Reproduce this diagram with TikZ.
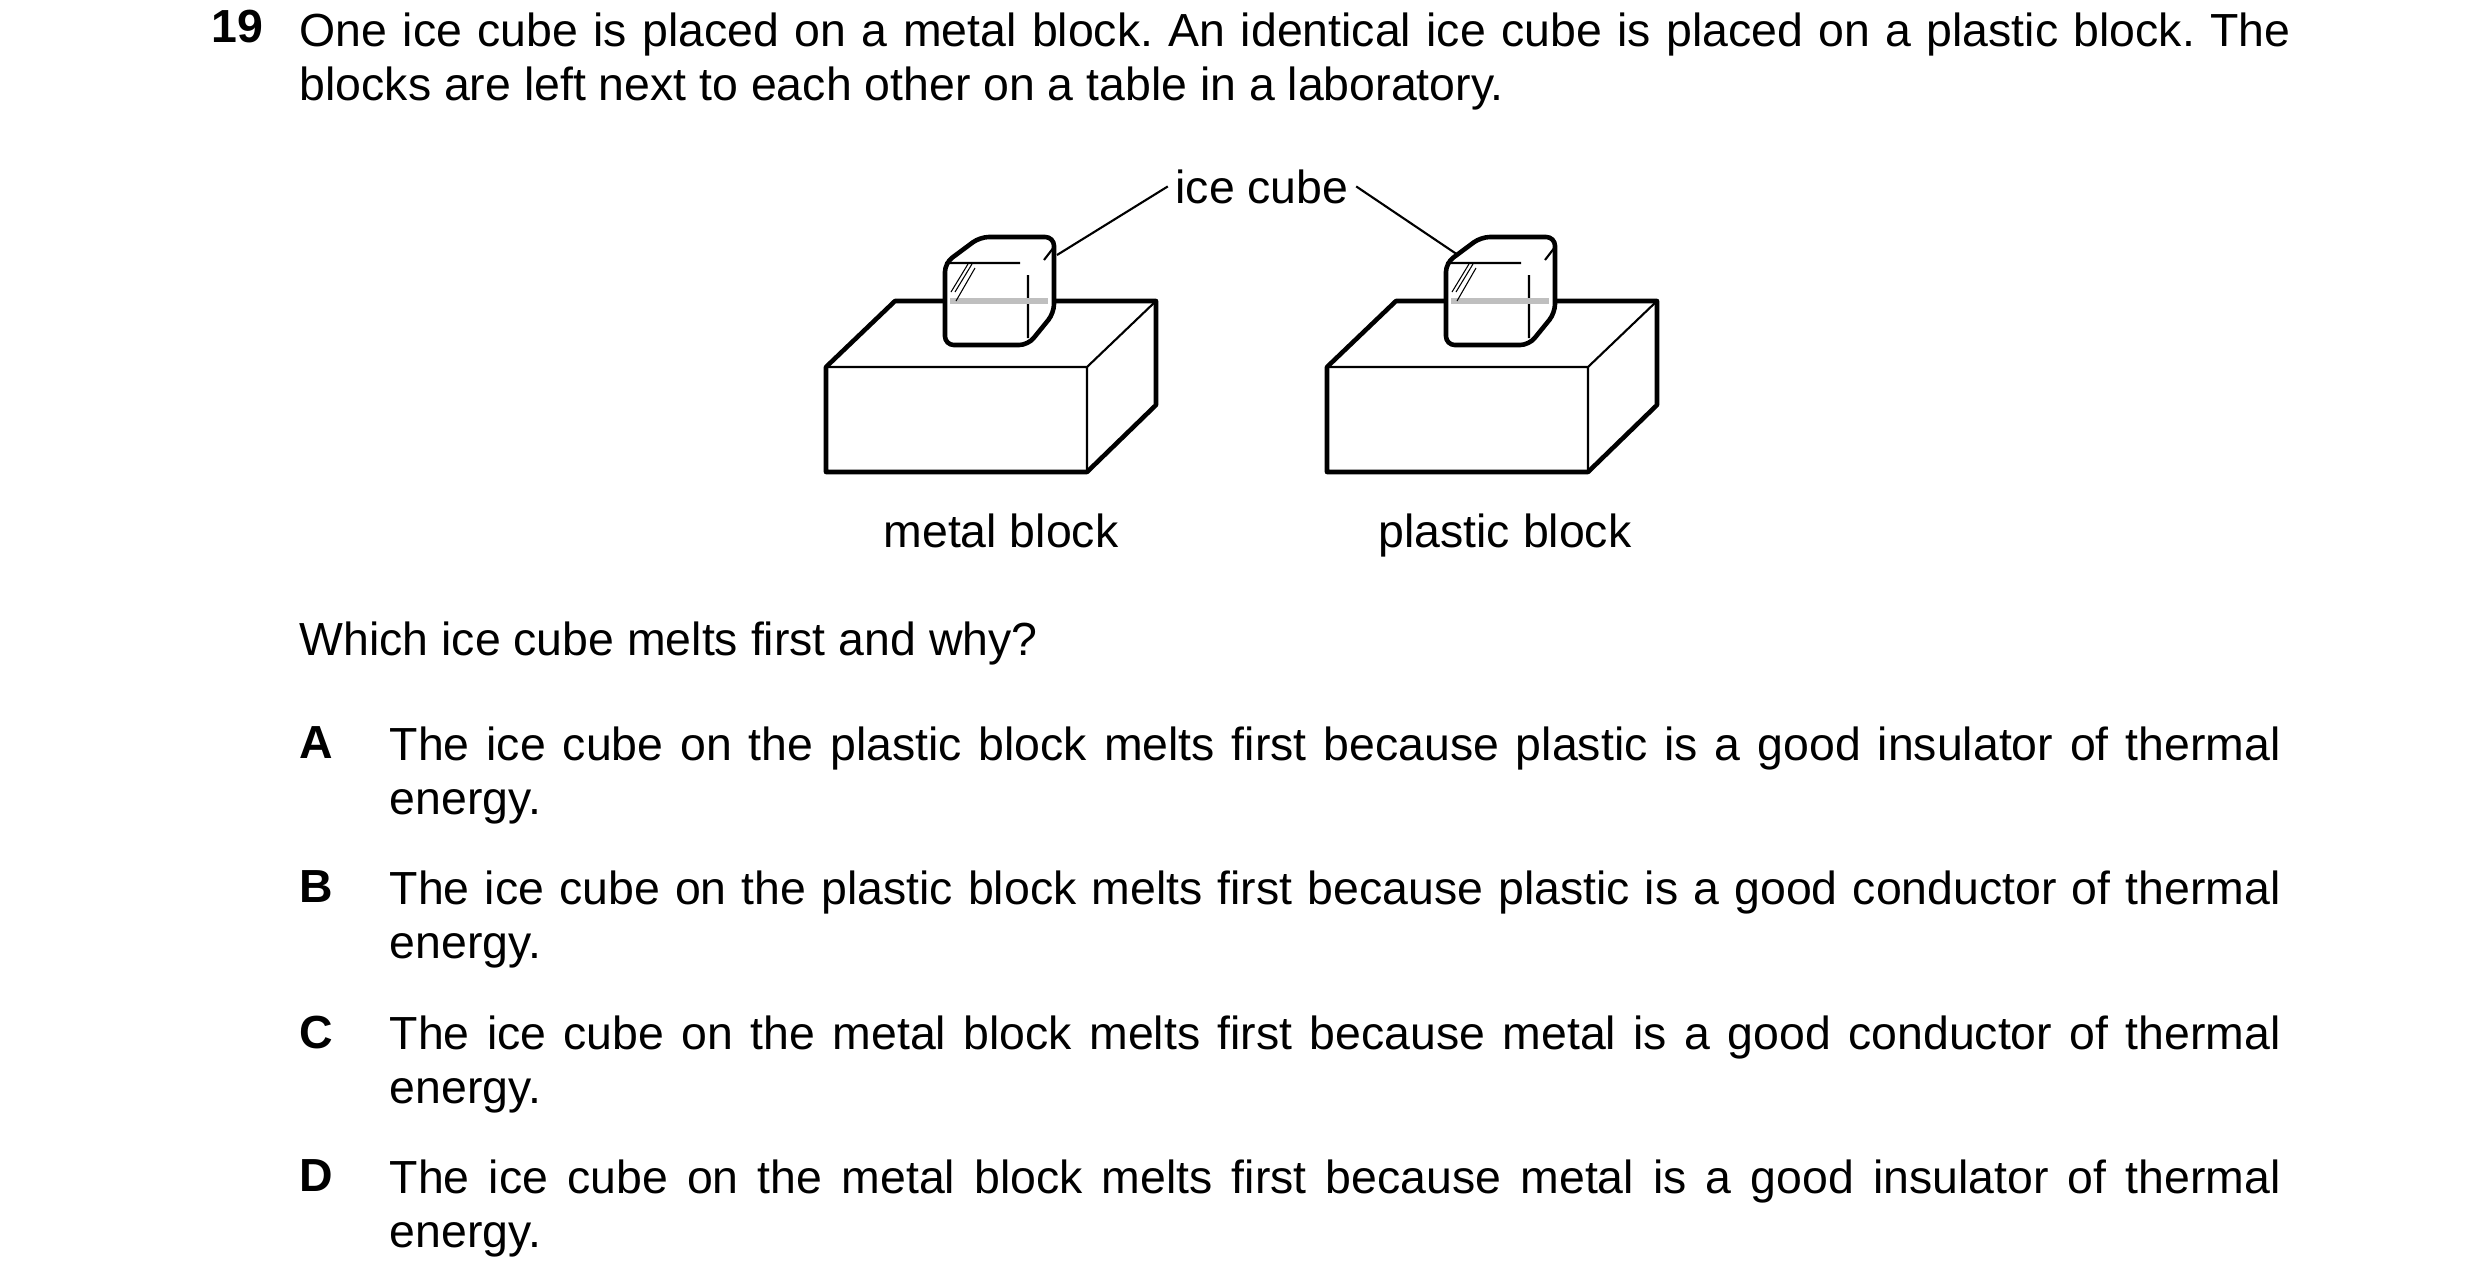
\documentclass[tikz,border=0pt]{standalone}
\usepackage{fontspec}
\setmainfont{Liberation Sans}
\usetikzlibrary{positioning}
\tikzset{
  outline/.style={line width=1.3pt,line join=round},
  edge/.style={line width=0.6pt},
  txt/.style={inner sep=0pt,anchor=base west,font=\fontsize{13.2}{15.5}\selectfont},
  para/.style={txt,anchor=north west,text width=18.9cm,align=justify},
  lab/.style={inner sep=0pt,anchor=base,font=\fontsize{13.2}{15}\selectfont}
}
% block with an ice cube on it, shifted by #1 pixels
\newcommand\blockcube[1]{%
  \begin{scope}[shift={(#1,0)}]
    \draw[outline,fill=white](826,367)--(895,301)--(1156,301)--(1156,405)--(1087,472)--(826,472)--cycle;
    \draw[edge](826,367)--(1087,367)--(1156,301)(1087,367)--(1087,472);
    \draw[outline,fill=white,rounded corners=2.5pt](945,300)--(945,263)--(980,237)--(1054,237)--(1054,313)--(1028,345)--(945,345)--cycle;
    \draw[edge](945,263)--(1020,263)(1028,275)--(1028,338)(1054,247)--(1044,260);
    \draw[line width=1.5pt,gray!50](950,301)--(1048,301);
    \draw[line width=0.3pt](951,292)--(968,264)(955,292)--(972,264)(956,301)--(975,268);
  \end{scope}}
\begin{document}
\frenchspacing
\begin{tikzpicture}[x=0.01cm,y=-0.01cm]
  \useasboundingbox(0,0)rectangle(2480,1281);
  \node[txt,font=\fontsize{13.2}{15}\bfseries](num)at(211,42){19};
  \node[para,text width=19.9cm](stem)at(299,12){One ice cube is placed on a metal block. An identical ice cube is placed on a plastic block. The blocks are left next to each other on a table in a laboratory.};
  \blockcube{0}
  \blockcube{501}
  \node[lab](ice)at(1262,203){ice cube};
  \coordinate(cubeL)at(1057,255);
  \coordinate(cubeR)at(1458,255);
  \draw[edge](cubeL)--([xshift=-2pt]ice.west);
  \draw[edge](cubeR)--([xshift=2pt]ice.east);
  \node[lab](metal)at(1001,547){metal block};
  \node[lab](plastic)at(1505,547){plastic block};
  \node[txt](q)at(299,655){Which ice cube melts first and why?};
  \foreach \l/\y/\t in{A/726/{The ice cube on the plastic block melts first because plastic is a good insulator of thermal\linebreak energy.},
    B/870/{The ice cube on the plastic block melts first because plastic is a good conductor of thermal\linebreak energy.},
    C/1015/{The ice cube on the metal block melts first because metal is a good conductor of thermal\linebreak energy.},
    D/1159/{The ice cube on the metal block melts first because metal is a good insulator of thermal\linebreak energy.}}{
    \node[txt,anchor=north west,font=\fontsize{13.2}{15}\bfseries](opt\l)at(299,\y){\l};
    \node[para](ans\l)at(389,\y){\t};
  }
\end{tikzpicture}
\end{document}
